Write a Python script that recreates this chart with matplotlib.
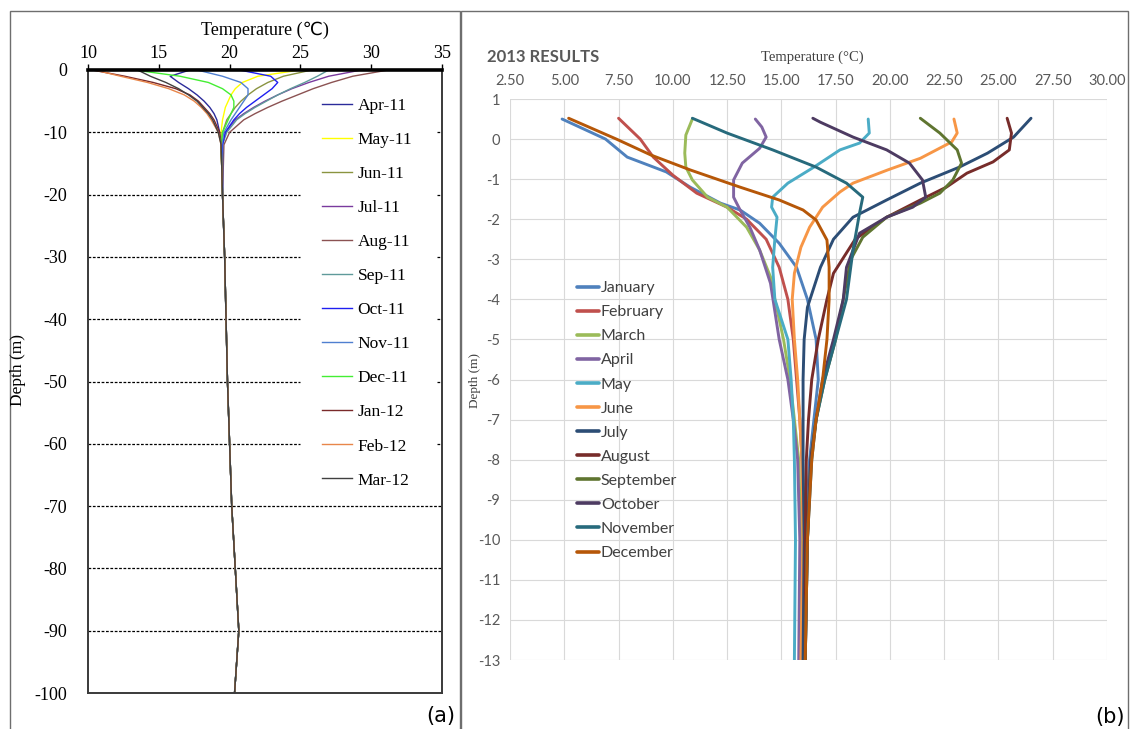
import matplotlib
matplotlib.use("Agg")
import matplotlib.pyplot as plt
from matplotlib.patches import Rectangle
from matplotlib.ticker import FormatStrFormatter

plt.rcParams["axes.unicode_minus"] = False

# ---------------- Panel (a) data ----------------
left_depth = [0, -1, -2, -3, -4, -5, -6, -7, -8, -10, -12,
              -20, -30, -40, -50, -60, -70, -80, -90, -100]
deep_profile = [19.5, 19.65, 19.75, 19.85, 20.0, 20.15, 20.4, 20.65, 20.35]

a_months = ["Apr-11", "May-11", "Jun-11", "Jul-11", "Aug-11", "Sep-11",
            "Oct-11", "Nov-11", "Dec-11", "Jan-12", "Feb-12", "Mar-12"]
a_colors = ["#2b2b9a", "#ffff00", "#8a9440", "#7a3a9e", "#8b5252", "#5f9a9a",
            "#1f1ff0", "#4f7fd0", "#44ee33", "#7a2a2a", "#e8864a", "#404040"]
a_apr11 = [17.2, 15.8, 16.4, 17.1, 17.7, 18.2, 18.6, 18.9, 19.1, 19.3, 19.4]
a_may11 = [25.0, 22.0, 20.9, 20.4, 20.1, 19.9, 19.7, 19.6, 19.5, 19.4, 19.4]
a_jun11 = [25.8, 23.8, 22.7, 21.9, 21.3, 20.8, 20.4, 20.1, 19.8, 19.5, 19.4]
a_jul11 = [29.3, 27.0, 25.6, 24.4, 23.4, 22.5, 21.7, 21.0, 20.4, 19.7, 19.5]
a_aug11 = [31.2, 28.7, 27.2, 25.9, 24.8, 23.7, 22.7, 21.8, 21.0, 20.0, 19.6]
a_sep11 = [27.0, 26.2, 25.3, 24.3, 23.4, 22.6, 21.8, 21.1, 20.5, 19.8, 19.5]
a_oct11 = [20.7, 22.9, 23.4, 23.0, 22.4, 21.8, 21.2, 20.7, 20.3, 19.7, 19.5]
a_nov11 = [17.7, 19.5, 20.8, 21.3, 21.3, 21.0, 20.7, 20.4, 20.1, 19.6, 19.45]
a_dec11 = [13.3, 16.5, 18.5, 19.5, 20.1, 20.3, 20.3, 20.1, 19.9, 19.5, 19.4]
a_jan12 = [10.3, 12.6, 14.6, 16.2, 17.2, 17.8, 18.2, 18.6, 18.9, 19.3, 19.4]
a_feb12 = [10.5, 12.3, 14.2, 15.7, 16.8, 17.5, 18.0, 18.4, 18.7, 19.2, 19.4]
a_mar12 = [13.5, 14.4, 15.5, 16.4, 17.1, 17.7, 18.1, 18.5, 18.8, 19.2, 19.4]
a_series = [a_apr11, a_may11, a_jun11, a_jul11, a_aug11, a_sep11,
            a_oct11, a_nov11, a_dec11, a_jan12, a_feb12, a_mar12]
a_xticks = [10, 15, 20, 25, 30, 35]
a_yticks = [0, -10, -20, -30, -40, -50, -60, -70, -80, -90, -100]
a_grid = [-10, -20, -30, -40, -50, -60, -70, -80, -90]

# ---------------- Panel (b) data (depth m, temperature degC) ----------------
b_months = ["January", "February", "March", "April", "May", "June", "July",
            "August", "September", "October", "November", "December"]
b_colors = ["#4f81bd", "#c0504d", "#9bbb59", "#8064a2", "#4bacc6", "#f79646",
            "#2c4d75", "#772c2a", "#5f7530", "#4d3b62", "#276a7c", "#b65708"]
jan_d = [0.5, 0, -0.45, -0.82, -1.2, -1.6, -1.77, -2.1, -2.6, -3.2, -4, -5, -6, -7, -8, -10, -13]
jan_t = [4.9, 6.9, 7.9, 9.7, 10.8, 12.2, 13.1, 14.0, 14.9, 15.7, 16.2, 16.6, 16.7, 16.5, 16.3, 16.1, 16.0]
feb_d = [0.52, 0, -0.45, -0.9, -1.35, -1.7, -2.0, -2.5, -3.2, -4, -5, -6, -7, -8, -10, -13]
feb_t = [7.5, 8.5, 9.1, 10.0, 11.1, 12.5, 13.4, 14.3, 14.9, 15.3, 15.55, 15.7, 15.85, 15.95, 16.0, 16.0]
mar_d = [0.5, 0.3, 0.1, -0.35, -0.7, -1.02, -1.45, -1.7, -2.2, -2.77, -3.44, -4, -5, -6, -7, -8, -10, -13]
mar_t = [10.9, 10.75, 10.6, 10.55, 10.6, 10.9, 11.6, 12.5, 13.4, 14.0, 14.5, 14.7, 15.1, 15.4, 15.6, 15.8, 15.9, 15.9]
apr_d = [0.5, 0.3, 0.05, -0.23, -0.6, -1.02, -1.45, -1.77, -2.2, -2.77, -3.6, -5, -6, -7, -8, -10, -13]
apr_t = [13.8, 14.1, 14.3, 14.0, 13.2, 12.8, 12.8, 13.1, 13.55, 14.0, 14.5, 14.9, 15.3, 15.55, 15.75, 15.85, 15.8]
may_d = [0.5, 0.15, -0.1, -0.27, -0.7, -1.1, -1.45, -1.7, -1.95, -2.5, -3.2, -4, -5, -6, -7, -8, -10, -13]
may_t = [19.0, 19.05, 18.6, 17.7, 16.5, 15.3, 14.6, 14.55, 14.8, 14.7, 14.6, 14.7, 15.3, 15.45, 15.55, 15.6, 15.65, 15.6]
jun_d = [0.5, 0.15, -0.07, -0.48, -0.77, -1.1, -1.32, -1.7, -2.2, -2.7, -3.35, -4, -5, -6, -7, -8, -10, -13]
jun_t = [22.95, 23.1, 22.85, 21.4, 19.9, 18.3, 17.7, 16.9, 16.3, 15.9, 15.6, 15.5, 15.6, 15.75, 15.85, 15.95, 16.0, 15.9]
jul_d = [0.52, 0.05, -0.35, -0.7, -1.1, -1.52, -1.95, -2.5, -3.2, -4.2, -5, -6, -7, -8, -10, -13]
jul_t = [26.5, 25.7, 24.5, 23.2, 21.4, 19.85, 18.3, 17.4, 16.8, 16.2, 16.05, 16.0, 16.0, 16.0, 16.05, 16.0]
aug_d = [0.52, 0.15, -0.27, -0.57, -0.85, -1.2, -1.52, -1.95, -2.5, -3.35, -4, -5, -6, -7, -8, -10, -13]
aug_t = [25.4, 25.6, 25.5, 24.75, 23.55, 22.6, 21.4, 19.85, 18.4, 17.4, 17.1, 16.7, 16.4, 16.25, 16.15, 16.1, 16.1]
sep_d = [0.52, 0.15, -0.27, -0.6, -1.02, -1.35, -1.6, -1.95, -2.45, -3.0, -4, -5, -6, -7, -8, -10, -13]
sep_t = [21.4, 22.3, 23.1, 23.3, 22.9, 22.3, 21.4, 19.85, 18.75, 18.2, 17.85, 17.5, 17.0, 16.6, 16.35, 16.2, 16.1]
oct_d = [0.52, 0.42, 0.05, -0.27, -0.6, -1.02, -1.45, -1.7, -1.95, -2.35, -3.2, -4, -5, -6, -7, -8, -10, -13]
oct_t = [16.45, 16.8, 18.3, 19.85, 20.9, 21.5, 21.65, 21.05, 19.85, 18.6, 18.0, 17.85, 17.4, 16.9, 16.6, 16.35, 16.2, 16.1]
nov_d = [0.52, 0.15, -0.27, -0.7, -1.1, -1.45, -1.85, -2.77, -4, -5, -6, -7, -8, -10, -13]
nov_t = [10.9, 12.5, 14.6, 16.6, 18.0, 18.75, 18.6, 18.3, 18.0, 17.5, 17.0, 16.6, 16.4, 16.2, 16.1]
dec_d = [0.52, 0, -0.4, -0.77, -1.2, -1.52, -1.77, -2.02, -2.52, -3.2, -4, -5, -6, -7, -8, -10, -13]
dec_t = [5.2, 7.4, 9.0, 10.8, 13.1, 14.9, 16.0, 16.6, 17.1, 17.2, 17.2, 17.1, 16.9, 16.6, 16.4, 16.2, 16.1]
b_depths = [jan_d, feb_d, mar_d, apr_d, may_d, jun_d, jul_d, aug_d, sep_d, oct_d, nov_d, dec_d]
b_temps = [jan_t, feb_t, mar_t, apr_t, may_t, jun_t, jul_t, aug_t, sep_t, oct_t, nov_t, dec_t]
b_xticks = [2.5, 5.0, 7.5, 10.0, 12.5, 15.0, 17.5, 20.0, 22.5, 25.0, 27.5, 30.0]
b_yticks = [1, 0, -1, -2, -3, -4, -5, -6, -7, -8, -9, -10, -11, -12, -13]

# ---------------- Figure ----------------
W, H = 1130, 729
fig = plt.figure(figsize=(W / 100, H / 100), dpi=100)


def rect(x0, y0, x1, y1):
    return [x0 / W, 1 - y1 / H, (x1 - x0) / W, (y1 - y0) / H]


# panel frames
fig.patches.append(Rectangle((10 / W, -0.01), 450 / W, (729 - 11) / H + 0.01,
                             transform=fig.transFigure, fill=False,
                             edgecolor="#6e6e6e", lw=1.0))
fig.patches.append(Rectangle((461 / W, -0.01), 667 / W, (729 - 11) / H + 0.01,
                             transform=fig.transFigure, fill=False,
                             edgecolor="#6e6e6e", lw=1.0))

SERIF = ["Liberation Serif", "DejaVu Serif"]
SERIF_C = ["Liberation Serif", "DejaVu Sans"]

# ---- panel (a)
AX_L, AX_R = 88, 442
axa = fig.add_axes(rect(AX_L, 70, AX_R, 693))
for name, col, vals in zip(a_months, a_colors, a_series):
    axa.plot(vals + deep_profile, left_depth, color=col, lw=1.0, label=name)
gap_l = (300 - AX_L) / (AX_R - AX_L)
gap_r = (437 - AX_L) / (AX_R - AX_L)
for g in a_grid:
    kw = dict(color="black", lw=0.9, ls=(0, (2.2, 1.3)), zorder=0.5)
    if g >= -60:  # interrupted behind the legend area
        axa.axhline(g, xmax=gap_l, **kw)
        axa.axhline(g, xmin=gap_r, **kw)
    else:
        axa.axhline(g, **kw)
axa.set_xlim(10, 35)
axa.set_ylim(-100, 0)
axa.xaxis.tick_top()
axa.set_xticks(a_xticks)
axa.set_yticks(a_yticks)
axa.tick_params(axis="x", direction="out", length=4, width=1, pad=2, labelsize=13)
axa.tick_params(axis="y", length=0, pad=15, labelsize=13)
for lab in axa.get_xticklabels() + axa.get_yticklabels():
    lab.set_fontfamily(SERIF)
for s in ["left", "right", "bottom"]:
    axa.spines[s].set_color("#3a3a3a")
    axa.spines[s].set_linewidth(1.4)
axa.spines["top"].set_linewidth(2.6)
axa.spines["top"].set_color("black")
axa.xaxis.set_label_position("top")
axa.set_xlabel("Temperature (\u2103)", fontsize=13, family=SERIF_C)
axa.xaxis.set_label_coords(0.5, 1 + 40 / 623)
axa.xaxis.label.set_va("center")
fig.text(18 / W, 1 - 370 / H, "Depth (m)", rotation=90, ha="center", va="center",
         fontsize=12.5, family=SERIF)
lega = axa.legend(loc="upper left", bbox_to_anchor=(322 / W, 1 - 98 / H),
                  bbox_transform=fig.transFigure, frameon=False,
                  handlelength=1.75, handletextpad=0.3, labelspacing=1.03,
                  borderpad=0, borderaxespad=0, prop={"family": SERIF, "size": 12.5})
fig.text(441 / W, 1 - 716 / H, "(a)", ha="center", va="center", fontsize=15,
         family=["DejaVu Sans"])

# ---- panel (b)
axb = fig.add_axes(rect(510, 99, 1107, 660))
for name, col, dd, tt in zip(b_months, b_colors, b_depths, b_temps):
    axb.plot(tt, dd, color=col, lw=2.1, label=name, solid_capstyle="round",
             solid_joinstyle="round")
axb.set_xlim(2.5, 30)
axb.set_ylim(-13, 1)
axb.set_xticks(b_xticks)
axb.set_yticks(b_yticks)
axb.xaxis.tick_top()
axb.xaxis.set_major_formatter(FormatStrFormatter("%.2f"))
axb.grid(True, color="#d9d9d9", lw=0.8)
axb.set_axisbelow(True)
for s in axb.spines.values():
    s.set_visible(False)
axb.tick_params(axis="both", length=0, labelcolor="#595959", labelsize=10.5)
axb.tick_params(axis="x", pad=8)
axb.tick_params(axis="y", pad=7)
for lab in axb.get_xticklabels() + axb.get_yticklabels():
    lab.set_fontfamily("Lato")
axb.xaxis.set_label_position("top")
axb.set_xlabel("Temperature (\u00b0C)", fontsize=10.5, family=SERIF, color="#404040")
axb.xaxis.set_label_coords((812 - 510) / 597, 1 + (99 - 57) / 561)
axb.xaxis.label.set_va("center")
fig.text(475 / W, 1 - 380 / H, "Depth (m)", rotation=90, ha="center", va="center",
         fontsize=9.5, family=SERIF, color="#404040")
fig.text(487 / W, 1 - 57 / H, "2013 RESULTS", ha="left", va="center", fontsize=12,
         fontweight="bold", family="Lato", color="#595959")
legb = axb.legend(loc="upper left", bbox_to_anchor=(577 / W, 1 - 281 / H),
                  bbox_transform=fig.transFigure, frameon=False,
                  handlelength=1.35, handletextpad=0.15, labelspacing=0.62,
                  borderpad=0, borderaxespad=0, prop={"family": "Lato", "size": 11.5})
for t in legb.get_texts():
    t.set_color("#404040")
for h in legb.get_lines():
    h.set_linewidth(2.6)
fig.text(1110 / W, 1 - 717 / H, "(b)", ha="center", va="center", fontsize=15,
         family=["DejaVu Sans"])

fig.savefig("out.png", dpi=100, facecolor="white")
